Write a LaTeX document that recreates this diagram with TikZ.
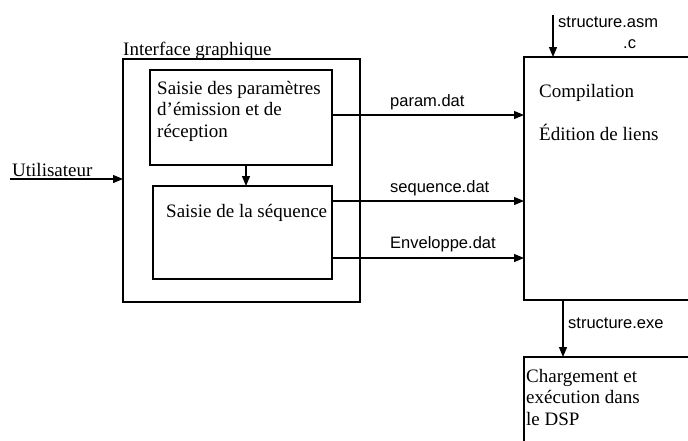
\documentclass[tikz,border=0pt]{standalone}
\usepackage{fontspec}
\setmainfont{Liberation Serif}
\newfontfamily\arialfont{Liberation Sans}
\usetikzlibrary{arrows.meta, positioning}

\tikzset{
  bigbox/.style={draw, line width=1.6pt, inner sep=0pt, outer sep=0pt, anchor=north west},
  smallbox/.style={draw, line width=1.2pt, inner sep=0pt, outer sep=0pt, anchor=north west},
  boxtext/.style={anchor=north west, align=left, inner sep=0pt, font=\fontsize{19}{21.5}\selectfont},
  filetext/.style={anchor=base west, inner sep=0pt, font=\arialfont\fontsize{16.5}{19}\selectfont},
  flow/.style={line width=1.2pt, -{Triangle[length=10pt,width=8pt]}}
}

\begin{document}
\begin{tikzpicture}[x=1pt, y=-1pt]
  \useasboundingbox (0,0) rectangle (688,440);
  \clip (0,0) rectangle (688,440);

  % Cadre de l'interface graphique
  \node[bigbox, minimum width=237pt, minimum height=243pt] (iface) at (123,59) {};
  \node[anchor=base west, inner sep=0pt, font=\fontsize{19}{21.5}\selectfont] (ifacetxt) at (123,55) {Interface graphique};

  % Boites internes
  \node[smallbox, minimum width=182pt, minimum height=95pt] (param) at (150,70) {};
  \node[boxtext] (paramtxt) at (157,81) {Saisie des paramètres\\d’émission et de\\réception};
  \node[smallbox, minimum width=179pt, minimum height=93pt] (seq) at (153,186) {};
  \node[boxtext] (seqtxt) at (166,204) {Saisie de la séquence};

  % Compilation et chargement
  \node[bigbox, minimum width=200pt, minimum height=243pt] (comp) at (524,57) {};
  \node[boxtext] (comptxt) at (539,84) {Compilation\\[22pt]Édition de liens};
  \node[bigbox, minimum width=200pt, minimum height=120pt] (load) at (524,357) {};
  \node[boxtext] (loadtxt) at (526,369) {Chargement et\\exécution dans\\le DSP};

  % Utilisateur
  \coordinate (user) at (10,179);
  \node[anchor=base west, inner sep=0pt, font=\fontsize{19}{21.5}\selectfont] (usertxt) at (12,176) {Utilisateur};
  \draw[flow] (user) -- (user -| iface.west);

  % Liaisons
  \draw[flow] ([xshift=5pt]param.south) coordinate (ps) -- (ps |- seq.north);
  \draw[flow] ([yshift=2.5pt]param.east) coordinate (pe) -- (pe -| comp.west);
  \draw[flow] ([yshift=31.5pt]seq.east) coordinate (se) -- (se -| comp.west);
  \draw[flow] ([yshift=-25.5pt]seq.east) coordinate (ee) -- (ee -| comp.west);
  \node[filetext] (paramlbl) at (390,106) {param.dat};
  \node[filetext] (seqlbl) at (390,192) {sequence.dat};
  \node[filetext] (envlbl) at (390,248) {Enveloppe.dat};

  % Fichiers source
  \coordinate (asmin) at (553,15);
  \draw[flow] (asmin) -- (asmin |- comp.north);
  \node[filetext, anchor=north west, align=left] (asmlbl) at (558,16.5) {structure.asm\\[2pt]\hspace*{65pt}.c};

  % Executable
  \draw[flow] ([xshift=39pt]comp.south west) coordinate (ex) -- (ex |- load.north);
  \node[filetext] (exelbl) at (568,328) {structure.exe};
\end{tikzpicture}
\end{document}
